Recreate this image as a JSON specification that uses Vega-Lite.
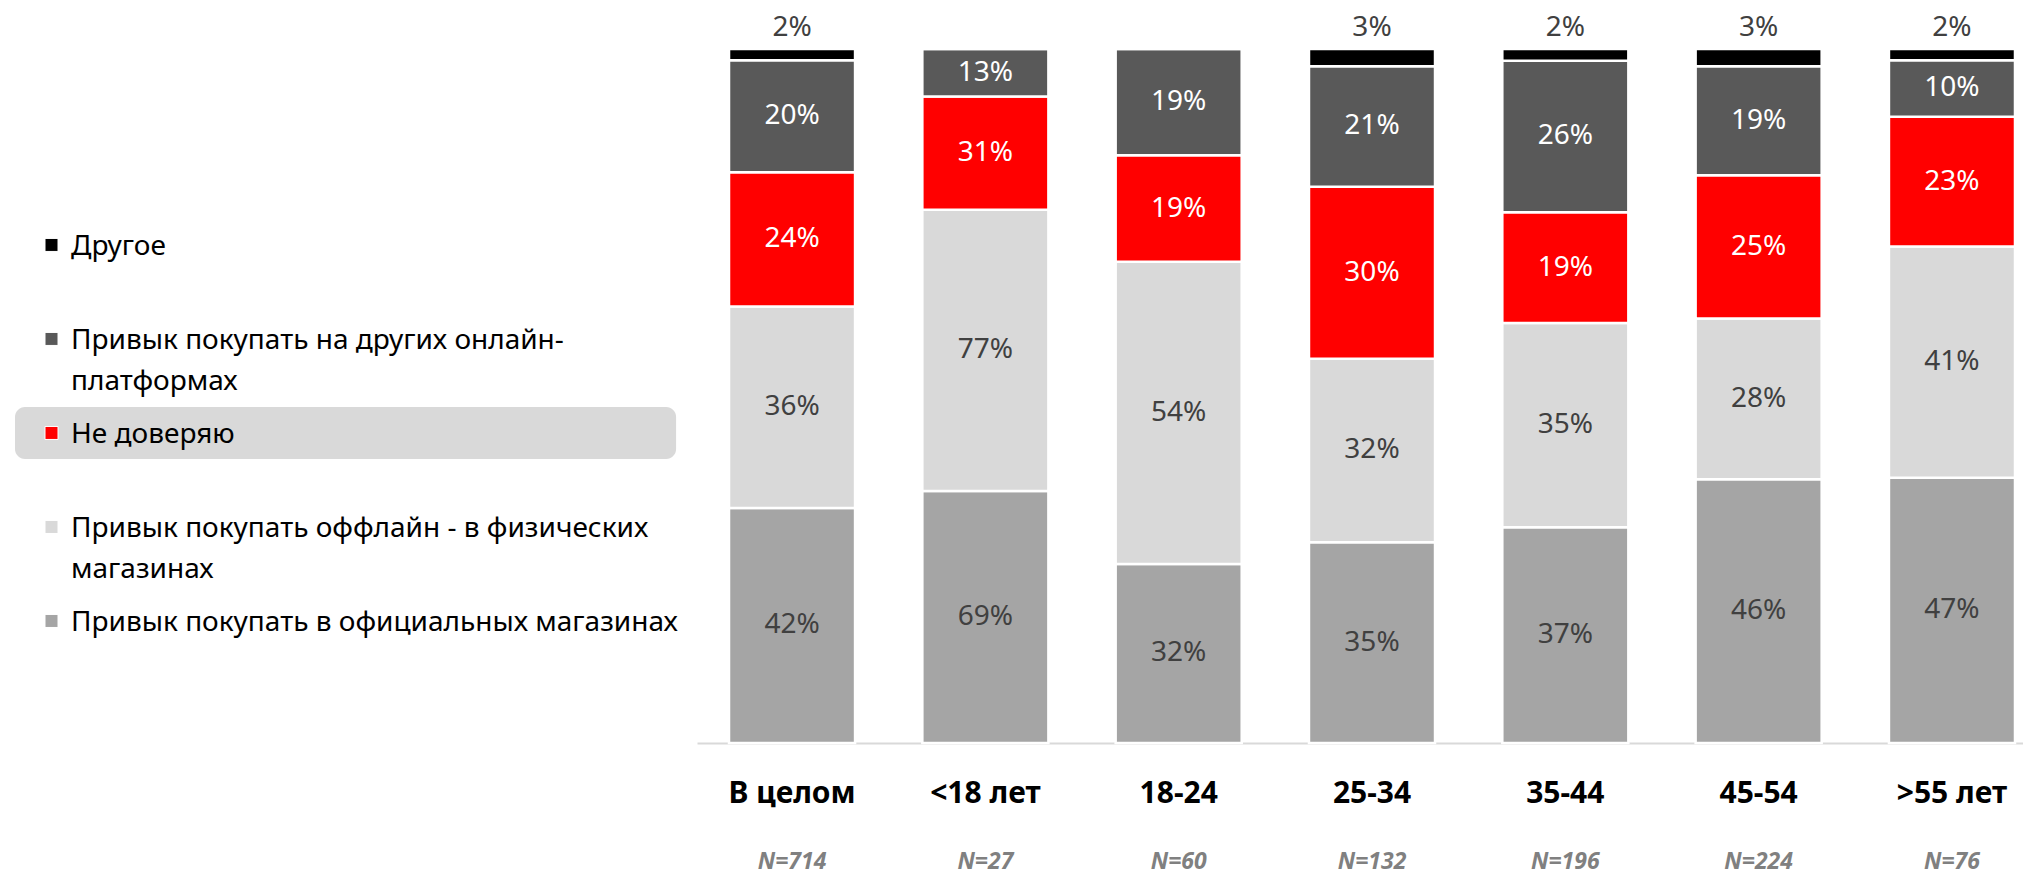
{
  "$schema": "https://vega.github.io/schema/vega-lite/v6.json",
  "autosize": {"type": "none"},
  "padding": {"left": 0, "top": 49, "right": 2023, "bottom": 827},
  "background": "white",
  "spacing": 0,
  "bounds": "flush",
  "config": {"view": {"stroke": null}, "font": "Noto Sans"},
  "datasets": {
    "bars": [
      {"group": "В целом", "N": "N=714", "series": "Привык покупать в официальных магазинах", "rank": 1, "value": 0.42},
      {"group": "В целом", "N": "N=714", "series": "Привык покупать оффлайн - в физических магазинах", "rank": 2, "value": 0.36},
      {"group": "В целом", "N": "N=714", "series": "Не доверяю", "rank": 3, "value": 0.24},
      {"group": "В целом", "N": "N=714", "series": "Привык покупать на других онлайн-платформах", "rank": 4, "value": 0.20},
      {"group": "В целом", "N": "N=714", "series": "Другое", "rank": 5, "value": 0.02},
      {"group": "<18 лет", "N": "N=27", "series": "Привык покупать в официальных магазинах", "rank": 1, "value": 0.69},
      {"group": "<18 лет", "N": "N=27", "series": "Привык покупать оффлайн - в физических магазинах", "rank": 2, "value": 0.77},
      {"group": "<18 лет", "N": "N=27", "series": "Не доверяю", "rank": 3, "value": 0.31},
      {"group": "<18 лет", "N": "N=27", "series": "Привык покупать на других онлайн-платформах", "rank": 4, "value": 0.13},
      {"group": "<18 лет", "N": "N=27", "series": "Другое", "rank": 5, "value": 0},
      {"group": "18-24", "N": "N=60", "series": "Привык покупать в официальных магазинах", "rank": 1, "value": 0.32},
      {"group": "18-24", "N": "N=60", "series": "Привык покупать оффлайн - в физических магазинах", "rank": 2, "value": 0.54},
      {"group": "18-24", "N": "N=60", "series": "Не доверяю", "rank": 3, "value": 0.19},
      {"group": "18-24", "N": "N=60", "series": "Привык покупать на других онлайн-платформах", "rank": 4, "value": 0.19},
      {"group": "18-24", "N": "N=60", "series": "Другое", "rank": 5, "value": 0},
      {"group": "25-34", "N": "N=132", "series": "Привык покупать в официальных магазинах", "rank": 1, "value": 0.35},
      {"group": "25-34", "N": "N=132", "series": "Привык покупать оффлайн - в физических магазинах", "rank": 2, "value": 0.32},
      {"group": "25-34", "N": "N=132", "series": "Не доверяю", "rank": 3, "value": 0.30},
      {"group": "25-34", "N": "N=132", "series": "Привык покупать на других онлайн-платформах", "rank": 4, "value": 0.21},
      {"group": "25-34", "N": "N=132", "series": "Другое", "rank": 5, "value": 0.03},
      {"group": "35-44", "N": "N=196", "series": "Привык покупать в официальных магазинах", "rank": 1, "value": 0.37},
      {"group": "35-44", "N": "N=196", "series": "Привык покупать оффлайн - в физических магазинах", "rank": 2, "value": 0.35},
      {"group": "35-44", "N": "N=196", "series": "Не доверяю", "rank": 3, "value": 0.19},
      {"group": "35-44", "N": "N=196", "series": "Привык покупать на других онлайн-платформах", "rank": 4, "value": 0.26},
      {"group": "35-44", "N": "N=196", "series": "Другое", "rank": 5, "value": 0.02},
      {"group": "45-54", "N": "N=224", "series": "Привык покупать в официальных магазинах", "rank": 1, "value": 0.46},
      {"group": "45-54", "N": "N=224", "series": "Привык покупать оффлайн - в физических магазинах", "rank": 2, "value": 0.28},
      {"group": "45-54", "N": "N=224", "series": "Не доверяю", "rank": 3, "value": 0.25},
      {"group": "45-54", "N": "N=224", "series": "Привык покупать на других онлайн-платформах", "rank": 4, "value": 0.19},
      {"group": "45-54", "N": "N=224", "series": "Другое", "rank": 5, "value": 0.03},
      {"group": ">55 лет", "N": "N=76", "series": "Привык покупать в официальных магазинах", "rank": 1, "value": 0.47},
      {"group": ">55 лет", "N": "N=76", "series": "Привык покупать оффлайн - в физических магазинах", "rank": 2, "value": 0.41},
      {"group": ">55 лет", "N": "N=76", "series": "Не доверяю", "rank": 3, "value": 0.23},
      {"group": ">55 лет", "N": "N=76", "series": "Привык покупать на других онлайн-платформах", "rank": 4, "value": 0.10},
      {"group": ">55 лет", "N": "N=76", "series": "Другое", "rank": 5, "value": 0.02}
    ],
    "legend": [
      {"series": "Другое", "label": "Другое", "selected": false},
      {"series": "Привык покупать на других онлайн-платформах", "label": "Привык покупать на других онлайн-\nплатформах", "selected": false},
      {"series": "Не доверяю", "label": "Не доверяю", "selected": true},
      {"series": "Привык покупать оффлайн - в физических магазинах", "label": "Привык покупать оффлайн - в физических\nмагазинах", "selected": false},
      {"series": "Привык покупать в официальных магазинах", "label": "Привык покупать в официальных магазинах", "selected": false}
    ]
  },
  "resolve": {"scale": {"color": "shared"}},
  "hconcat": [
    {
      "width": 697,
      "height": 616,
      "data": {"name": "legend"},
      "encoding": {
        "y": {
          "field": "series", "type": "nominal", "axis": null,
          "scale": {
            "domain": ["Другое", "Привык покупать на других онлайн-платформах", "Не доверяю", "Привык покупать оффлайн - в физических магазинах", "Привык покупать в официальных магазинах"],
            "paddingInner": 0.447, "paddingOuter": 1, "align": 0.904
          }
        }
      },
      "layer": [
        {
          "transform": [{"filter": "datum.selected"}],
          "mark": {"type": "bar", "color": "#d9d9d9", "cornerRadius": 10},
          "encoding": {
            "x": {"datum": 0.0215, "type": "quantitative", "scale": {"domain": [0, 1], "nice": false, "zero": false}, "axis": null},
            "x2": {"datum": 0.97}
          }
        },
        {
          "mark": {"type": "point", "shape": "square", "filled": true, "size": 169, "opacity": 1, "stroke": "white", "strokeWidth": 1},
          "encoding": {
            "x": {"datum": 0.0739, "type": "quantitative", "scale": {"domain": [0, 1], "nice": false, "zero": false}, "axis": null},
            "color": {
              "field": "series", "type": "nominal", "legend": null,
              "scale": {
                "domain": ["Другое", "Привык покупать на других онлайн-платформах", "Не доверяю", "Привык покупать оффлайн - в физических магазинах", "Привык покупать в официальных магазинах"],
                "range": ["#000000", "#595959", "#ff0000", "#d9d9d9", "#a5a5a5"]
              }
            }
          }
        },
        {
          "mark": {"type": "text", "align": "left", "baseline": "alphabetic", "dy": 10, "fontSize": 28, "lineHeight": 41, "lineBreak": "\n", "color": "#000000"},
          "encoding": {
            "x": {"datum": 0.1019, "type": "quantitative", "scale": {"domain": [0, 1], "nice": false, "zero": false}, "axis": null},
            "text": {"field": "label", "type": "nominal"}
          }
        }
      ]
    },
    {
      "width": 1326,
      "height": 694,
      "data": {"name": "bars"},
      "encoding": {
        "x": {
          "field": "group", "type": "nominal",
          "sort": ["В целом", "<18 лет", "18-24", "25-34", "35-44", "45-54", ">55 лет"],
          "scale": {"paddingInner": 0.348, "paddingOuter": 0.1035, "align": 0.8},
          "axis": {"title": null, "domainColor": "#d9d9d9", "domainWidth": 2, "ticks": false, "labelAngle": 0,
                   "labelFontSize": 30, "labelFontWeight": "bold", "labelColor": "#000000", "labelPadding": 35, "labelFont": "Noto Sans"}
        }
      },
      "layer": [
        {
          "mark": {"type": "bar", "stroke": "white", "strokeWidth": 2.5},
          "encoding": {
            "y": {"field": "value", "type": "quantitative", "stack": "normalize", "scale": {"domain": [0, 1]}, "axis": null},
            "order": {"field": "rank", "sort": "ascending"},
            "color": {"field": "series", "type": "nominal", "legend": null}
          }
        },
        {
          "mark": {"type": "text", "fontSize": 28, "baseline": "middle"},
          "encoding": {
            "y": {"field": "value", "type": "quantitative", "stack": "normalize", "bandPosition": 0.5, "scale": {"domain": [0, 1]}, "axis": null},
            "order": {"field": "rank", "sort": "ascending"},
            "detail": {"field": "series", "type": "nominal"},
            "text": {"condition": {"test": "datum.rank == 5", "value": ""}, "field": "value", "type": "quantitative", "format": ".0%"},
            "color": {"condition": {"test": "datum.rank >= 3", "value": "#ffffff"}, "value": "#404040"}
          }
        },
        {
          "transform": [{"filter": "datum.rank == 5 && datum.value > 0"}],
          "mark": {"type": "text", "fontSize": 28, "baseline": "middle", "dy": -21, "color": "#404040"},
          "encoding": {
            "y": {"datum": 1, "type": "quantitative", "scale": {"domain": [0, 1]}},
            "text": {"field": "value", "type": "quantitative", "format": ".0%"}
          }
        },
        {
          "transform": [{"filter": "datum.rank == 1"}],
          "mark": {"type": "text", "fontSize": 23, "fontStyle": "italic", "fontWeight": "bold", "color": "#808080", "baseline": "middle"},
          "encoding": {
            "y": {"datum": -0.1715, "type": "quantitative", "scale": {"domain": [0, 1]}},
            "text": {"field": "N", "type": "nominal"}
          }
        }
      ]
    }
  ]
}
